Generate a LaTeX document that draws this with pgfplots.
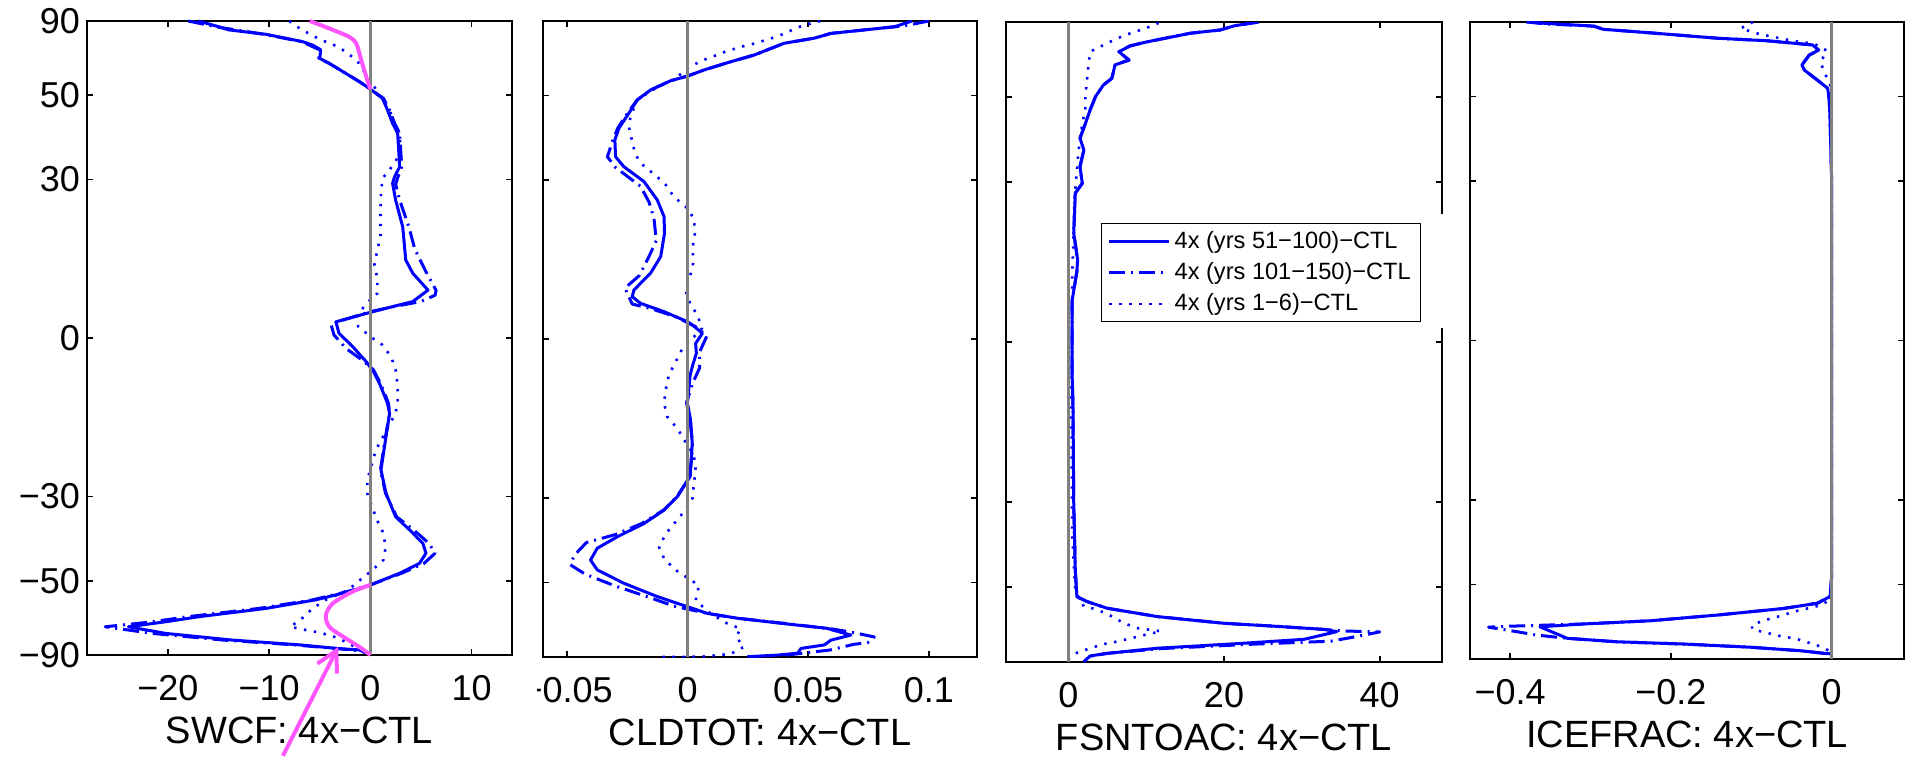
\documentclass[border=0pt]{standalone}
\usepackage{fontspec}
\setmainfont{Liberation Sans}
\usepackage{pgfplots}
\pgfplotsset{compat=1.18}
\usetikzlibrary{arrows.meta}
\definecolor{zgray}{RGB}{128,128,128}
\definecolor{annot}{RGB}{255,85,255}
\definecolor{mblue}{RGB}{0,0,255}
\pgfplotsset{
 panel/.style={scale only axis, anchor=south west, ymin=-1, ymax=1,
   ytick={-1,-0.766,-0.5,0,0.5,0.766,1}, yticklabels={},
   tick align=inside, major tick length=3pt,
   axis line style={line width=0.9pt}, every tick/.style={black, line width=0.9pt},
   tick label style={font=\fontsize{18}{21}\selectfont},
   xticklabel style={anchor=base, yshift=-22.5pt}, yticklabel style={xshift=0pt},
   xlabel style={at={(axis description cs:0.5,0)}, anchor=base, yshift=-44pt, font=\fontsize{19}{22}\selectfont}},
 s1/.style={mblue, line width=1.5pt, line join=round},
 s2/.style={mblue, line width=1.5pt, line join=round, dash pattern=on 8pt off 3pt on 1pt off 3pt},
 s3/.style={mblue, line width=1.3pt, line join=round, dash pattern=on 1.2pt off 3.8pt},
 zl/.style={zgray, line width=1.4pt, forget plot},
}
\begin{document}
\begin{tikzpicture}
\useasboundingbox (0,0) rectangle (955pt,378pt);
% ---------------- Panel 1: SWCF
\begin{axis}[panel, at={(43.5pt,50.5pt)}, width=212.5pt, height=317pt,
  xmin=-28, xmax=14, xtick={-20,-10,0,10}, xticklabels={−20,−10,0,10},
  yticklabels={−90,−50,−30,0,30,50,90}, xlabel={SWCF: 4x−CTL}, clip=false]
\addplot[s1] coordinates {
(-17.0,1.0) (-15.0,0.982) (-14.0,0.972) (-10.3,0.958) (-6.7,0.935) (-5.7,0.924)
(-4.9,0.909) (-5.0,0.882) (-4.1,0.867) (-2.7,0.840) (-1.1,0.809) (0,0.785)
(1.2,0.756) (1.7,0.719) (2.2,0.677) (2.7,0.646) (2.8,0.593) (2.9,0.540)
(2.4,0.509) (2.2,0.488) (2.5,0.435) (3.2,0.351) (3.5,0.246) (4.2,0.204)
(5.7,0.151) (4.2,0.115) (2.2,0.099) (0,0.081) (-3.4,0.051) (-3.1,0.015)
(-1.75,-0.027) (-0.4,-0.075) (0.3,-0.105) (0.9,-0.143) (1.7,-0.206) (1.9,-0.238)
(1.55,-0.311) (1.05,-0.416) (1.55,-0.490) (2.5,-0.564) (3.9,-0.606) (5.2,-0.648)
(5.5,-0.679) (4.85,-0.711) (2.9,-0.742) (0,-0.779) (-2.1,-0.800) (-5.4,-0.826)
(-10.3,-0.853) (-16.9,-0.879) (-20.2,-0.895) (-23.9,-0.911) (-20.2,-0.932)
(-13.6,-0.953) (-7.0,-0.968) (-3.4,-0.979) (-1.1,-0.984) (-0.1,-0.995)};
\addplot[s2] coordinates {
(-18.0,1.0) (-15.3,0.982) (-10.5,0.958) (-6.8,0.935) (-5.0,0.909) (-5.1,0.882)
(-4.1,0.867) (-2.7,0.840) (-1.1,0.809) (0,0.785) (1.3,0.756) (1.9,0.719)
(2.4,0.677) (2.9,0.646) (3.0,0.593) (3.1,0.540) (2.7,0.505) (2.5,0.485)
(2.9,0.435) (3.8,0.351) (4.4,0.280) (5.4,0.215) (6.5,0.150) (6.4,0.135)
(5.0,0.115) (2.3,0.099) (0,0.083) (-3.9,0.045) (-3.6,0.010) (-2.4,-0.033)
(-1.0,-0.065) (0.3,-0.100) (1.0,-0.143) (1.8,-0.206) (1.9,-0.238) (1.5,-0.311)
(1.0,-0.416) (1.5,-0.490) (2.6,-0.564) (4.3,-0.606) (5.8,-0.648) (6.4,-0.679)
(5.3,-0.711) (3.1,-0.742) (0,-0.779) (-2.3,-0.800) (-5.7,-0.826) (-11.0,-0.853)
(-18.0,-0.879) (-22.0,-0.897) (-26.2,-0.911) (-21.5,-0.932) (-14.5,-0.953)
(-7.5,-0.968) (-3.6,-0.979) (-1.2,-0.986) (-0.1,-0.996)};
\addplot[s3] coordinates {
(-8.0,1.0) (-7.5,0.987) (-6.4,0.966) (-5.0,0.942) (-3.7,0.926) (-2.4,0.903)
(-1.25,0.872) (-0.6,0.840) (0.2,0.803) (1.0,0.760) (1.9,0.719) (2.4,0.677)
(2.9,0.646) (3.0,0.583) (1.9,0.530) (1.2,0.504) (1.05,0.456) (1.0,0.409)
(1.0,0.362) (1.0,0.320) (0.7,0.278) (0.4,0.230) (0.7,0.188) (0.7,0.141)
(-0.4,0.109) (-1.3,0.070) (-1.2,0.036) (0.2,0.0) (1.2,-0.022) (2.05,-0.059)
(2.5,-0.101) (2.7,-0.150) (2.7,-0.200) (2.5,-0.237) (0.55,-0.353) (-0.3,-0.448)
(-0.3,-0.490) (0.65,-0.574) (1.3,-0.616) (1.5,-0.662) (1.3,-0.700) (0.2,-0.732)
(-1.0,-0.763) (-2.2,-0.795) (-4.4,-0.826) (-5.7,-0.853) (-6.7,-0.883) (-7.9,-0.911)
(-6.4,-0.921) (-4.9,-0.930) (-3.6,-0.942) (-2.2,-0.962) (-0.5,-0.995)};
\addplot[zl] coordinates {(0,-1) (0,1)};
\addplot[annot, line width=2pt, forget plot, smooth] coordinates {
(-6.0,1.0) (-3.7,0.972) (-2.1,0.950) (-1.4,0.930) (-0.9,0.877) (-0.4,0.824) (0,0.785)};
\addplot[annot, line width=2pt, forget plot, smooth] coordinates {
(0,-0.779) (-1.75,-0.800) (-3.7,-0.837) (-4.4,-0.874) (-4.06,-0.911) (-2.7,-0.942) (-1.1,-0.974) (0,-1.0)};
\draw[annot, line width=2pt, -{Straight Barb[length=10pt,width=11pt]}] (rel axis cs:0.461,-0.159) -- (rel axis cs:0.591,0.0126);
\end{axis}
% ---------------- Panel 2: CLDTOT
\begin{axis}[panel, at={(271.5pt,49.5pt)}, width=217pt, height=318pt,
  xmin=-0.06, xmax=0.12, xtick={-0.05,0,0.05,0.1}, xticklabels={−0.05,0,0.05,0.1},
  xlabel={CLDTOT: 4x−CTL}]
\addplot[s1] coordinates {
(0.093,1.0) (0.0858,0.982) (0.0733,0.972) (0.0594,0.961) (0.0525,0.946) (0.040,0.930)
(0.0276,0.893) (0.0179,0.872) (0.0068,0.846) (0,0.827) (-0.0071,0.812) (-0.0154,0.783)
(-0.0209,0.752) (-0.0244,0.710) (-0.0285,0.663) (-0.0302,0.626) (-0.0299,0.573)
(-0.0265,0.542) (-0.0181,0.495) (-0.0126,0.437) (-0.0098,0.385) (-0.0096,0.332)
(-0.0112,0.259) (-0.0154,0.207) (-0.0223,0.154) (-0.0230,0.133) (-0.0195,0.112)
(-0.0098,0.086) (0,0.054) (0.0026,0.040) (0.0061,0.018) (0.0033,-0.014) (0.0036,-0.045)
(0.0019,-0.087) (0.001,-0.115) (-0.0001,-0.202) (0.0012,-0.255) (0.0019,-0.328)
(0.001,-0.433) (-0.0043,-0.496) (-0.0098,-0.538) (-0.0181,-0.580) (-0.0292,-0.622)
(-0.0375,-0.658) (-0.0403,-0.695) (-0.0375,-0.726) (-0.0265,-0.768) (-0.0126,-0.810)
(0,-0.842) (0.0082,-0.863) (0.0206,-0.878) (0.0387,-0.894) (0.0580,-0.910) (0.060,-0.915)
(0.0677,-0.931) (0.0594,-0.947) (0.0567,-0.962) (0.047,-0.973) (0.0456,-0.988)
(0.0373,-0.994) (0.0248,-0.999)};
\addplot[s2] coordinates {
(0.100,1.0) (0.090,0.985) (0.0733,0.972) (0.0594,0.961) (0.0525,0.946) (0.040,0.930)
(0.0276,0.893) (0.0179,0.872) (0.0068,0.846) (0,0.827) (-0.0071,0.812) (-0.0154,0.783)
(-0.0209,0.752) (-0.0250,0.710) (-0.0290,0.663) (-0.0310,0.626) (-0.0333,0.573)
(-0.0300,0.540) (-0.0195,0.480) (-0.0160,0.430) (-0.0140,0.380) (-0.0130,0.310)
(-0.0160,0.260) (-0.0200,0.200) (-0.0260,0.160) (-0.0230,0.110) (-0.0150,0.095)
(-0.0050,0.070) (0.0030,0.040) (0.0080,0.010) (0.0050,-0.040) (0.0050,-0.090)
(0.0020,-0.140) (-0.0005,-0.200) (0.0010,-0.255) (0.0020,-0.330) (0.0010,-0.433)
(-0.0045,-0.496) (-0.0100,-0.538) (-0.0190,-0.580) (-0.0300,-0.615) (-0.0420,-0.640)
(-0.0470,-0.680) (-0.0487,-0.710) (-0.0424,-0.740) (-0.0306,-0.775) (-0.0150,-0.815)
(-0.0057,-0.840) (0.0082,-0.863) (0.0206,-0.878) (0.0400,-0.894) (0.0600,-0.912)
(0.0680,-0.922) (0.0774,-0.937) (0.0747,-0.955) (0.0690,-0.960) (0.0590,-0.978)
(0.0510,-0.985) (0.0400,-0.995)};
\addplot[s3] coordinates {
(0.055,1.0) (0.050,0.99) (0.0456,0.98) (0.040,0.96) (0.0345,0.945) (0.028,0.93)
(0.0227,0.92) (0.0165,0.906) (0.011,0.89) (0.0054,0.874) (0,0.851) (-0.005,0.82)
(-0.0154,0.78) (-0.021,0.75) (-0.0237,0.70) (-0.0244,0.668) (-0.023,0.62) (-0.0216,0.578)
(-0.018,0.542) (-0.0133,0.515) (-0.009,0.484) (-0.0057,0.447) (-0.0008,0.416)
(0.0026,0.379) (0.003,0.332) (0.002,0.285) (0.0024,0.243) (0.001,0.196) (-0.001,0.154)
(0.001,0.112) (0.004,0.075) (0.006,0.034) (0.002,0.002) (-0.0022,-0.03) (-0.005,-0.072)
(-0.0078,-0.113) (-0.0091,-0.16) (-0.0098,-0.202) (-0.0085,-0.244) (-0.0043,-0.281)
(-0.001,-0.323) (0.0026,-0.365) (0.0033,-0.412) (0.0026,-0.454) (0.002,-0.501)
(-0.001,-0.538) (-0.005,-0.575) (-0.009,-0.612) (-0.0119,-0.654) (-0.0098,-0.690)
(-0.0053,-0.725) (0.0047,-0.775) (0.0033,-0.822) (0.0096,-0.864) (0.0165,-0.895)
(0.022,-0.911) (0.020,-0.937) (0.0234,-0.968) (0.0179,-0.99) (0.006,-0.999) (-0.012,-1.0)};
\addplot[zl] coordinates {(0,-1) (0,1)};
\end{axis}
\fill[white] (257.5pt,20pt) rectangle (268.5pt,46pt);
% ---------------- Panel 3: FSNTOAC
\begin{axis}[panel, at={(503pt,47pt)}, width=218pt, height=320pt,
  xmin=-8, xmax=48, xtick={0,20,40}, xticklabels={0,20,40},
  xlabel={FSNTOAC: 4x−CTL},
  legend style={at={(0.218,0.686)}, anchor=north west, draw=black, line width=0.6pt,
    font=\fontsize{11.8}{13}\selectfont, inner xsep=3pt, inner ysep=2pt, row sep=1.5pt,
    cells={anchor=west}},
  legend image code/.code={\draw[#1] (0pt,0pt) -- (30pt,0pt);}]
\addplot[s1] coordinates {
(24.3,1.0) (21.3,0.988) (19.5,0.975) (15.7,0.965) (10.1,0.938) (7.9,0.925) (6.5,0.907)
(7.8,0.881) (6.0,0.866) (5.6,0.824) (4.5,0.803) (3.5,0.767) (2.8,0.725) (2.2,0.683)
(1.5,0.637) (2.0,0.600) (1.5,0.548) (1.8,0.496) (0.9,0.465) (0.7,0.340) (1.2,0.256)
(1.1,0.220) (0.5,0.131) (0.5,0.027) (0.5,-0.108) (0.6,-0.192) (0.7,-0.504) (0.9,-0.713)
(1.1,-0.796) (2.4,-0.811) (5.0,-0.832) (11.4,-0.858) (20.0,-0.879) (26.4,-0.888)
(32.8,-0.898) (34.5,-0.905) (30.3,-0.929) (22.1,-0.942) (11.4,-0.957) (5.0,-0.973)
(2.8,-0.981) (2.0,-0.999)};
\addlegendentry{4x (yrs 51−100)−CTL}
\addplot[s2] coordinates {
(24.5,1.0) (21.3,0.988) (19.5,0.975) (15.7,0.965) (10.1,0.938) (7.9,0.925) (6.5,0.907)
(7.8,0.881) (6.0,0.866) (5.6,0.824) (4.5,0.803) (3.5,0.767) (2.8,0.725) (2.2,0.683)
(1.5,0.637) (2.0,0.600) (1.5,0.548) (1.8,0.496) (0.9,0.465) (0.7,0.340) (1.2,0.256)
(1.1,0.220) (0.5,0.131) (0.5,0.027) (0.5,-0.108) (0.6,-0.192) (0.7,-0.504) (0.9,-0.713)
(1.1,-0.796) (2.4,-0.811) (5.0,-0.832) (11.4,-0.858) (20.0,-0.879) (26.4,-0.888)
(32.8,-0.898) (35.4,-0.903) (40.0,-0.906) (36.0,-0.925) (33.7,-0.935) (24.0,-0.944)
(12.0,-0.958) (5.0,-0.973) (2.8,-0.982) (2.0,-0.999)};
\addlegendentry{4x (yrs 101−150)−CTL}
\addplot[s3] coordinates {
(11.6,0.997) (9.9,0.98) (8.0,0.965) (6.3,0.949) (4.5,0.928) (2.8,0.907) (2.6,0.866)
(2.4,0.818) (2.2,0.771) (2.2,0.730) (1.8,0.683) (1.3,0.594) (0.8,0.45) (0.5,0.2)
(0.4,-0.2) (0.5,-0.6) (0.9,-0.78) (2.0,-0.826) (3.7,-0.836) (5.4,-0.855) (7.1,-0.878)
(8.8,-0.894) (11.9,-0.904) (9.9,-0.915) (8.2,-0.925) (6.3,-0.936) (4.5,-0.944)
(2.8,-0.957) (0.9,-0.973) (-0.2,-0.995)};
\addlegendentry{4x (yrs 1−6)−CTL}
\addplot[zl] coordinates {(0,-1) (0,1)};
\end{axis}
\fill[white] (719.5pt,214pt) rectangle (723pt,271pt);
% ---------------- Panel 4: ICEFRAC
\begin{axis}[panel, at={(735pt,48.5pt)}, width=217pt, height=318.5pt,
  xmin=-0.45, xmax=0.09, xtick={-0.4,-0.2,0}, xticklabels={−0.4,−0.2,0},
  xlabel={ICEFRAC: 4x−CTL}]
\addplot[s1] coordinates {
(-0.375,1.0) (-0.358,0.996) (-0.296,0.987) (-0.284,0.977) (-0.226,0.966) (-0.142,0.949)
(-0.080,0.941) (-0.024,0.928) (-0.016,0.912) (-0.028,0.896) (-0.037,0.865) (-0.034,0.849)
(-0.018,0.818) (-0.005,0.792) (-0.003,0.755) (-0.002,0.692) (-0.001,0.598) (0,0.5)
(0,-0.7) (0,-0.742) (-0.002,-0.804) (-0.018,-0.825) (-0.059,-0.841) (-0.142,-0.862)
(-0.226,-0.880) (-0.309,-0.890) (-0.363,-0.899) (-0.329,-0.935) (-0.267,-0.946)
(-0.184,-0.953) (-0.101,-0.963) (-0.039,-0.974) (-0.010,-0.982) (0,-0.984)};
\addplot[s2] coordinates {
(-0.380,1.0) (-0.356,0.994) (-0.296,0.987) (-0.284,0.977) (-0.226,0.966) (-0.142,0.949)
(-0.080,0.941) (-0.024,0.928) (-0.016,0.912) (-0.028,0.896) (-0.037,0.865) (-0.034,0.849)
(-0.018,0.818) (-0.005,0.792) (-0.003,0.755) (-0.002,0.692) (-0.001,0.598) (0,0.5)
(0,-0.7) (0,-0.742) (-0.002,-0.804) (-0.018,-0.825) (-0.059,-0.841) (-0.142,-0.862)
(-0.226,-0.880) (-0.309,-0.890) (-0.400,-0.897) (-0.427,-0.900) (-0.390,-0.915)
(-0.367,-0.925) (-0.329,-0.935) (-0.267,-0.946) (-0.184,-0.953) (-0.101,-0.963)
(-0.039,-0.974) (-0.010,-0.982) (0,-0.984)};
\addplot[s3] coordinates {
(-0.098,1.0) (-0.113,0.98) (-0.096,0.966) (-0.078,0.956) (-0.059,0.946) (-0.041,0.938)
(-0.022,0.932) (-0.006,0.910) (-0.014,0.873) (-0.007,0.831) (0,0.792) (0,-0.80)
(-0.01,-0.829) (-0.028,-0.84) (-0.045,-0.85) (-0.064,-0.865) (-0.080,-0.876)
(-0.099,-0.892) (-0.099,-0.907) (-0.082,-0.917) (-0.064,-0.928) (-0.045,-0.936)
(-0.028,-0.949) (-0.01,-0.964) (0,-0.98)};
\addplot[zl] coordinates {(0,-1) (0,1)};
\end{axis}
\end{tikzpicture}
\end{document}
